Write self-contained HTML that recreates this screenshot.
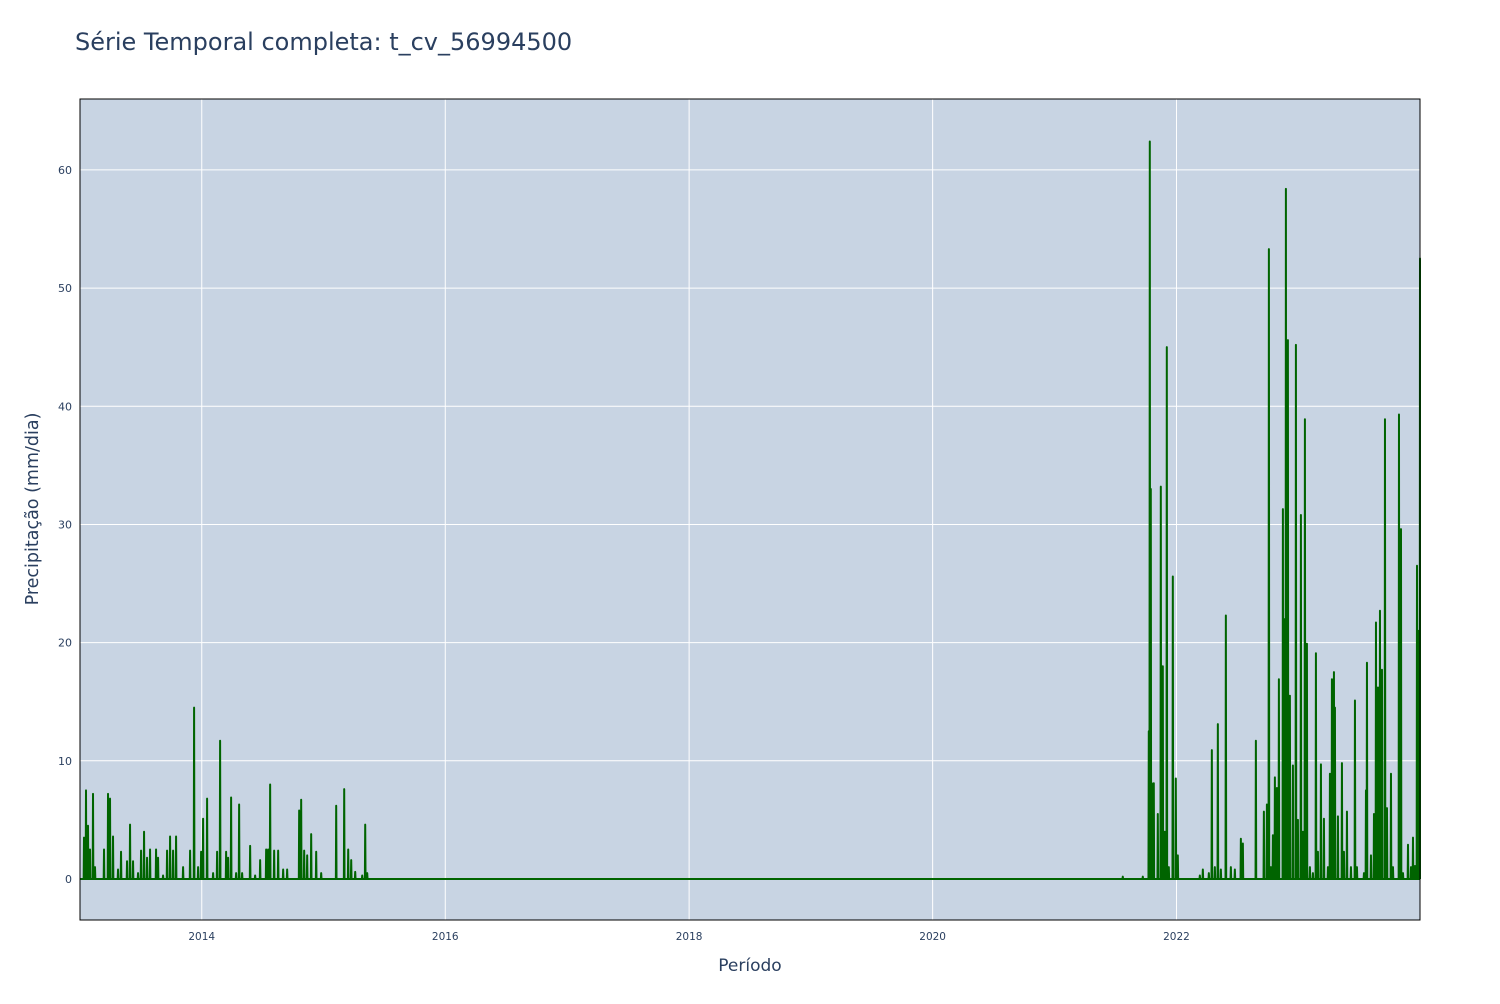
<!DOCTYPE html>
<html><head><meta charset="utf-8"><style>
body{margin:0;background:#fff;font-family:"DejaVu Sans",sans-serif;}
svg text{font-family:"DejaVu Sans",sans-serif;fill:#2a3f5f;}
</style></head><body>
<svg id="chart" width="1500" height="1000">
<text x="75" y="50" font-size="24">Série Temporal completa: t_cv_56994500</text>
<rect x="80" y="99" width="1340" height="821" fill="#c8d4e3"/>
<g id="grid"></g>
<g id="series"></g>
<rect x="80" y="99" width="1340" height="821" fill="none" stroke="#000" stroke-width="1"/>
<g id="ticks"></g>
<text x="750" y="971" font-size="17" text-anchor="middle">Período</text>
<text x="38" y="509" font-size="17.5" text-anchor="middle" transform="rotate(-90 38 509)">Precipitação (mm/dia)</text>
</svg>
<script>
// days since 2013-01-01
const spikeDays = [12,18,24,30,39,45,72,84,90,99,114,123,141,150,159,174,183,192,201,210,228,234,249,261,270,279,288,309,330,342,354,363,369,381,399,411,420,438,444,453,468,477,486,510,525,540,558,564,570,582,594,609,621,657,663,672,681,693,708,723,768,792,804,813,825,846,855,861,
3126,3186,3204,3207,3210,3213,3219,3231,3240,3246,3252,3258,3264,3276,3285,3291,3357,3366,3384,3393,3402,3411,3420,3435,3450,3462,3480,3486,3525,3549,3558,3564,3570,3576,3582,3588,3594,3606,3612,3615,3621,3627,3636,3645,3651,3660,3666,3672,3678,3687,3696,3705,3711,3720,3729,3741,3747,3753,3759,3762,3771,3783,3789,3798,3810,3822,3828,3849,3855,3858,3870,3879,3885,3891,3897,3903,3912,3918,3930,3936,3954,3960,3966,3981,3990,3996,4002,4008,4011,4017];
const spikeValues = [3.5,7.5,4.5,2.5,7.2,1,2.5,7.2,6.8,3.6,0.8,2.3,1.5,4.6,1.5,0.5,2.4,4.0,1.8,2.5,2.5,1.8,0.3,2.4,3.6,2.4,3.6,1,2.4,14.5,1,2.3,5.1,6.8,0.5,2.3,11.7,2.3,1.8,6.9,0.5,6.3,0.5,2.8,0.3,1.6,2.5,2.5,8.0,2.4,2.4,0.8,0.8,5.8,6.7,2.4,2.0,3.8,2.3,0.5,6.2,7.6,2.5,1.6,0.6,0.3,4.6,0.5,
0.2,0.2,12.5,62.4,33,8.1,8.1,5.5,33.2,18,4,45,1,25.6,8.5,2,0.3,0.8,0.5,10.9,1,13.1,0.8,22.3,1,0.8,3.4,3,11.7,5.7,6.3,53.3,1,3.7,8.6,7.7,16.9,31.3,22,58.4,45.6,15.5,9.6,45.2,5,30.8,4,38.9,19.9,1,0.5,19.1,2.3,9.7,5.1,1,8.9,16.9,17.5,14.5,5.3,9.8,2.3,5.7,1,15.1,1,0.5,7.5,18.3,2,5.5,21.7,16.2,22.7,17.7,38.9,6,8.9,1,39.3,29.6,0.5,2.9,1,3.5,1.1,26.5,21,52.5];
const yTicks = [0,10,20,30,40,50,60];
const xTickLabels = ["2014","2016","2018","2020","2022"];
const xTickDays = [365,1095,1826,2556,3287];
const totalDays = 4017;

const NS="http://www.w3.org/2000/svg";
const X0=80,X1=1420,Y0=920,Y1=99,YMIN=-3.47,YMAX=66.0;
const xs=d=>X0+d/totalDays*(X1-X0);
const ys=v=>Y0-(v-YMIN)/(YMAX-YMIN)*(Y0-Y1);
const grid=document.getElementById('grid'),ticks=document.getElementById('ticks'),series=document.getElementById('series');
function mk(tag,attrs,parent){const e=document.createElementNS(NS,tag);for(const k in attrs)e.setAttribute(k,attrs[k]);parent.appendChild(e);return e;}
yTicks.forEach(v=>{
  const l=mk('line',{x1:X0,x2:X1,y1:ys(v),y2:ys(v),stroke:'#fff','stroke-width':v===0?2:1},grid);
  
  
  const t=mk('text',{x:72,y:ys(v)+4,'font-size':11,'text-anchor':'end'},ticks);
  t.textContent=v;
  
  
});
xTickDays.forEach((d,i)=>{
  const l=mk('line',{x1:xs(d),x2:xs(d),y1:Y1,y2:Y0,stroke:'#fff','stroke-width':1},grid);
  
  
  const t=mk('text',{x:xs(d),y:940,'font-size':10.5,'text-anchor':'middle'},ticks);
  t.textContent=xTickLabels[i];
  
  
});
let p='M'+xs(0)+','+ys(0);
spikeDays.forEach((d,i)=>{
  p+=' L'+xs(d-1).toFixed(2)+','+ys(0).toFixed(2)+' L'+xs(d).toFixed(2)+','+ys(spikeValues[i]).toFixed(2)+' L'+xs(Math.min(d+1,totalDays)).toFixed(2)+','+ys(0).toFixed(2);
});
p+=' L'+xs(totalDays)+','+ys(0);
const path=mk('path',{d:p,fill:'none',stroke:'#006400','stroke-width':2,'stroke-linejoin':'round'},series);


</script>
</body></html>
